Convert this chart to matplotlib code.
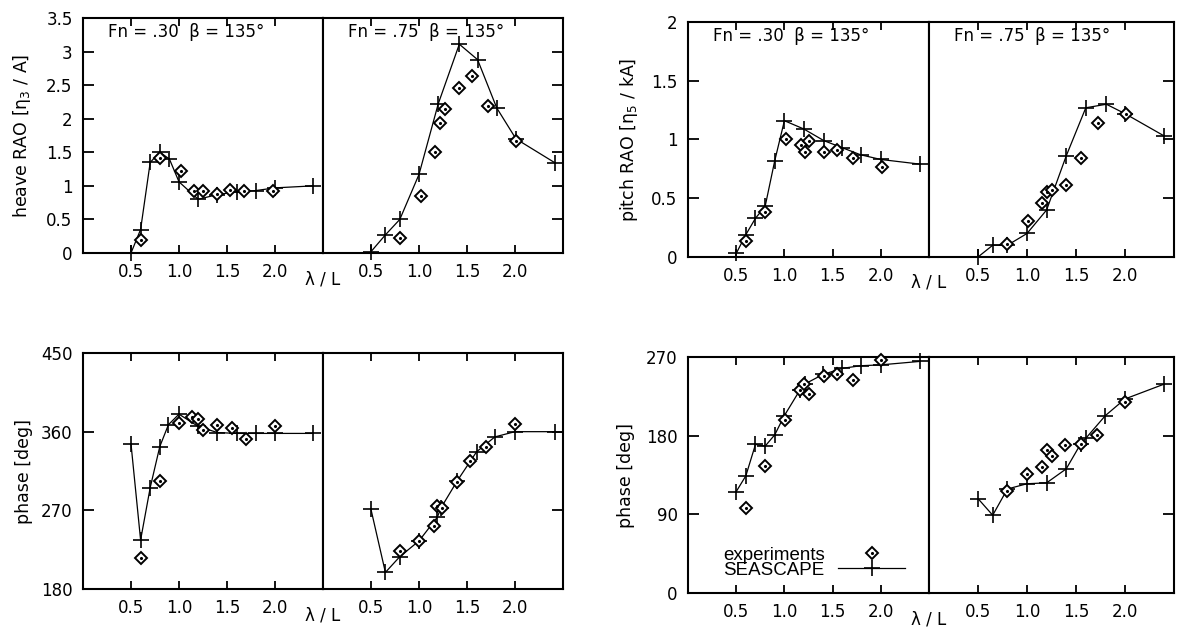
import matplotlib.pyplot as plt
from matplotlib.lines import Line2D

plt.rcParams['font.family'] = ['DejaVu Sans']
plt.rcParams['font.size'] = 12

W, H = 1182, 632

# heave RAO, Fn = .30 / .75
heave30_sea_x = [0.5, 0.6, 0.7, 0.8, 0.9, 1.0, 1.2, 1.4, 1.6, 1.8, 2.0, 2.4]
heave30_sea_y = [0.0, 0.35, 1.35, 1.5, 1.4, 1.06, 0.8, 0.87, 0.91, 0.93, 0.97, 1.0]
heave30_exp_x = [0.6, 0.8, 1.02, 1.16, 1.25, 1.4, 1.53, 1.68, 1.98]
heave30_exp_y = [0.19, 1.41, 1.22, 0.92, 0.93, 0.88, 0.94, 0.93, 0.92]
heave75_sea_x = [0.5, 0.65, 0.8, 1.0, 1.2, 1.42, 1.61, 1.81, 2.01, 2.42]
heave75_sea_y = [0.02, 0.27, 0.5, 1.17, 2.22, 3.11, 2.88, 2.16, 1.7, 1.34]
heave75_exp_x = [0.8, 1.02, 1.17, 1.22, 1.27, 1.42, 1.55, 1.72, 2.01]
heave75_exp_y = [0.22, 0.85, 1.5, 1.93, 2.15, 2.46, 2.63, 2.19, 1.67]

# pitch RAO
pitch30_sea_x = [0.5, 0.6, 0.7, 0.8, 0.9, 1.0, 1.2, 1.41, 1.6, 1.79, 2.0, 2.41]
pitch30_sea_y = [0.03, 0.19, 0.33, 0.43, 0.82, 1.16, 1.09, 0.99, 0.93, 0.87, 0.83, 0.79]
pitch30_exp_x = [0.6, 0.8, 1.02, 1.17, 1.21, 1.26, 1.41, 1.55, 1.71, 2.01]
pitch30_exp_y = [0.14, 0.38, 1.0, 0.95, 0.89, 0.99, 0.89, 0.91, 0.84, 0.77]
pitch75_sea_x = [0.5, 0.65, 0.8, 1.0, 1.2, 1.4, 1.6, 1.81, 2.0, 2.4]
pitch75_sea_y = [0.0, 0.1, 0.1, 0.2, 0.4, 0.86, 1.27, 1.3, 1.22, 1.03]
pitch75_exp_x = [0.8, 1.01, 1.15, 1.2, 1.26, 1.4, 1.55, 1.72, 2.01]
pitch75_exp_y = [0.11, 0.31, 0.46, 0.55, 0.57, 0.61, 0.84, 1.14, 1.22]

# heave phase
hph30_sea_x = [0.5, 0.6, 0.7, 0.8, 0.89, 1.0, 1.2, 1.4, 1.6, 1.8, 2.0, 2.4]
hph30_sea_y = [346, 236, 296, 343, 368, 380, 366, 359, 358, 358, 358, 358]
hph30_exp_x = [0.6, 0.8, 1.0, 1.14, 1.2, 1.25, 1.4, 1.55, 1.7, 2.0]
hph30_exp_y = [215, 304, 370, 377, 375, 362, 368, 364, 352, 367]
hph75_sea_x = [0.5, 0.65, 0.8, 1.0, 1.19, 1.23, 1.4, 1.6, 1.79, 2.0, 2.42]
hph75_sea_y = [271, 199, 217, 235, 262, 273, 304, 337, 354, 360, 360]
hph75_exp_x = [0.8, 1.0, 1.16, 1.19, 1.24, 1.4, 1.53, 1.7, 2.0]
hph75_exp_y = [224, 235, 252, 275, 273, 302, 326, 343, 369]

# pitch phase
pph30_sea_x = [0.5, 0.6, 0.7, 0.8, 0.9, 1.0, 1.16, 1.21, 1.4, 1.6, 1.79, 2.0, 2.41]
pph30_sea_y = [116, 134, 170, 168, 181, 203, 232, 239, 250, 257, 260, 261, 265]
pph30_exp_x = [0.6, 0.8, 1.01, 1.16, 1.2, 1.26, 1.41, 1.55, 1.71, 2.0]
pph30_exp_y = [97, 145, 198, 232, 239, 228, 248, 250, 244, 266]
pph75_sea_x = [0.5, 0.65, 0.8, 1.0, 1.2, 1.4, 1.55, 1.6, 1.8, 2.0, 2.4]
pph75_sea_y = [108, 89, 119, 125, 126, 142, 171, 177, 203, 222, 239]
pph75_exp_x = [0.8, 1.0, 1.15, 1.2, 1.25, 1.39, 1.55, 1.71, 2.0]
pph75_exp_y = [117, 136, 144, 164, 157, 169, 170, 181, 218]

x_ticks = [0.5, 1.0, 1.5, 2.0]
x_ticklabels = ['0.5', '1.0', '1.5', '2.0']


def px_rect(x0, y0, x1, y1):
    return [x0 / W, 1 - y1 / H, (x1 - x0) / W, (y1 - y0) / H]


def draw_series(ax, sx, sy, ex, ey):
    ax.plot(sx, sy, color='black', lw=0.9, marker='+', ms=11, mew=1.2,
            clip_on=False, zorder=3)
    ax.plot(ex, ey, ls='none', marker='D', ms=6, mfc='white', mec='black',
            mew=1.4, clip_on=False, zorder=4)
    ax.plot(ex, ey, ls='none', marker='.', ms=2.5, color='black',
            clip_on=False, zorder=5)


def draw_pair(fig, x0, xm, x1, y0, y1, ylim, yticks, yticklabels, ylabel,
              left_data, right_data, fn_labels, lab_x):
    ax_l = fig.add_axes(px_rect(x0, y0, xm, y1))
    ax_r = fig.add_axes(px_rect(xm, y0, x1, y1))
    for ax, data in ((ax_l, left_data), (ax_r, right_data)):
        draw_series(ax, *data)
        ax.set_xlim(0, 2.5)
        ax.set_ylim(*ylim)
        ax.set_xticks(x_ticks)
        ax.set_xticklabels(x_ticklabels)
        ax.set_yticks(yticks)
        for sp in ax.spines.values():
            sp.set_linewidth(1.5)
        ax.tick_params(axis='x', direction='in', top=True, bottom=True,
                       length=6, width=1.3, pad=7.5, labelsize=12)
    ax_l.set_yticklabels(yticklabels)
    ax_l.tick_params(axis='y', direction='in', left=True, right=False,
                     length=8, width=1.3, pad=7.5, labelsize=12)
    ax_r.tick_params(axis='y', direction='in', left=False, right=True,
                     labelleft=False, length=8, width=1.3)
    ax_l.set_ylabel(ylabel, fontsize=12.5)
    ax_l.yaxis.set_label_coords(lab_x, 0.5)
    if fn_labels:
        ax_l.text(0.104, 0.94, 'Fn = .30  β = 135°', transform=ax_l.transAxes,
                  va='center', ha='left', fontsize=12)
        ax_r.text(0.104, 0.94, 'Fn = .75  β = 135°', transform=ax_r.transAxes,
                  va='center', ha='left', fontsize=12)
    fig.text(xm / W, 1 - (y1 + 26) / H, 'λ / L', ha='center', va='center',
             fontsize=12)
    return ax_l, ax_r


fig = plt.figure(figsize=(W / 100, H / 100), dpi=100)

draw_pair(fig, 83, 323, 563, 18, 253, (0, 3.5),
          [0, 0.5, 1, 1.5, 2, 2.5, 3, 3.5],
          ['0', '0.5', '1', '1.5', '2', '2.5', '3', '3.5'],
          'heave RAO [η$_3$ / A]',
          (heave30_sea_x, heave30_sea_y, heave30_exp_x, heave30_exp_y),
          (heave75_sea_x, heave75_sea_y, heave75_exp_x, heave75_exp_y),
          True, -0.21)

draw_pair(fig, 688, 929, 1174, 22, 257, (0, 2),
          [0, 0.5, 1, 1.5, 2], ['0', '0.5', '1', '1.5', '2'],
          'pitch RAO [η$_5$ / kA]',
          (pitch30_sea_x, pitch30_sea_y, pitch30_exp_x, pitch30_exp_y),
          (pitch75_sea_x, pitch75_sea_y, pitch75_exp_x, pitch75_exp_y),
          True, -0.2)

draw_pair(fig, 83, 323, 563, 353, 589, (180, 450),
          [180, 270, 360, 450], ['180', '270', '360', '450'],
          'phase [deg]',
          (hph30_sea_x, hph30_sea_y, hph30_exp_x, hph30_exp_y),
          (hph75_sea_x, hph75_sea_y, hph75_exp_x, hph75_exp_y),
          False, -0.21)

ax_pl, ax_pr = draw_pair(fig, 688, 929, 1174, 357, 593, (0, 270),
                         [0, 90, 180, 270], ['0', '90', '180', '270'],
                         'phase [deg]',
                         (pph30_sea_x, pph30_sea_y, pph30_exp_x, pph30_exp_y),
                         (pph75_sea_x, pph75_sea_y, pph75_exp_x, pph75_exp_y),
                         False, -0.22)

h_exp = (Line2D([], [], ls='none', marker='D', ms=6, mfc='white', mec='black', mew=1.4),
         Line2D([], [], ls='none', marker='.', ms=2.5, color='black'))
h_sea = Line2D([], [], color='black', lw=0.9, marker='+', ms=11, mew=1.2)
ax_pl.legend([h_exp, h_sea], ['experiments', 'SEASCAPE'], loc='lower left',
             bbox_to_anchor=(0.145, 0.06), frameon=False, markerfirst=False,
             handlelength=3.6, handletextpad=0.7, labelspacing=-0.1,
             borderpad=0, borderaxespad=0, numpoints=1,
             prop={'family': 'Liberation Sans', 'size': 13.5})

fig.savefig('out.png', dpi=100)
